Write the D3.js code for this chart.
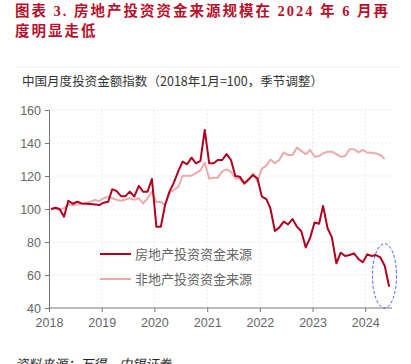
<!DOCTYPE html>
<html lang="zh">
<head>
<meta charset="UTF-8">
<title>房地产投资资金来源</title>
<script src="https://d3js.org/d3.v7.min.js"></script>
<style>
  body { margin: 0; background: #fff; }
  svg text { font-family: "Liberation Sans", "Noto Sans CJK SC", sans-serif; }
</style>
</head>
<body>
<div id="chart"></div>
<script>
// monthly index, 2018-01 .. 2024-06 (2018-01 = 100, seasonally adjusted)
const realEstate = [
  100, 100.8, 100, 95.3, 105, 103.2, 104.4, 103.4, 103.2, 103, 102.8, 102.4,
  103.8, 104.4, 112, 110.8, 107.8, 107.8, 110.5, 107.5, 114, 110.5, 110.5, 118.2,
  89.3, 89.3, 102.4, 110.5, 116, 123, 128.7, 127.1, 131.1, 127.7, 129.1, 147.9,
  127.7, 127.7, 129.7, 129.7, 133.3, 129.7, 120, 119.6, 115.5, 118, 120.6, 118.5,
  107.5, 106, 100.4, 86.7, 88.7, 92.3, 90.7, 93.9, 89.3, 86.5, 76.7, 82.5,
  91.8, 91.1, 101.9, 88.3, 82.8, 67.1, 73.5, 71.5, 72.1, 73.1, 69.7, 67.7,
  72.5, 71.5, 72.1, 70.7, 65.6, 52.9
];
// 2018-01 .. 2024-05
const nonRealEstate = [
  100, 100.2, 99.4, 100.5, 102.8, 102.3, 102.8, 103, 103.6, 104.5, 105.5, 104.8,
  106.5, 107.5, 106.5, 105.5, 105, 105.8, 106.5, 105.5, 106.5, 103.4, 106.5, 110.5,
  104.2, 104.4, 102.2, 110, 111.5, 113.5, 120, 120.2, 120.2, 121.8, 123.4, 128,
  118.4, 119, 119, 122.8, 124, 122.5, 118.6, 118.4, 115.3, 117.3, 121.6, 116.8,
  124.5, 126.3, 130, 127.7, 129.7, 134.3, 132.7, 132.7, 137.2, 135.2, 133.2, 135.8,
  131.7, 132.1, 133.7, 134.7, 134.7, 133.2, 131.7, 132.1, 136.2, 136.2, 134.3, 135.8,
  134.1, 134.1, 133.7, 132.7, 130.3
];
const seriesNames = ["房地产投资资金来源", "非地产投资资金来源"];
const yearTicks = [2018, 2019, 2020, 2021, 2022, 2023, 2024];
const yTicks = [40, 60, 80, 100, 120, 140, 160];

const W = 411, H = 364;
const svg = d3.select("#chart").append("svg")
  .attr("width", W)
  .attr("height", H);

const x = d3.scaleTime()
  .domain([new Date(2018, 0, 1), new Date(2024, 6, 1)])
  .range([49, 391.5]);
const y = d3.scaleLinear()
  .domain([40, 160])
  .range([308, 110]);

const monthDate = i => new Date(2018, i, 15);

// title
const red = "#b8102c";
svg.append("text").attr("x", 15).attr("y", 16)
  .attr("fill", red).attr("font-weight", "bold").attr("font-size", 14.5)
  .attr("textLength", 373).attr("lengthAdjust", "spacing")
  .style("font-family", "'Liberation Serif', 'Noto Sans CJK SC', serif")
  .text("图表 3. 房地产投资资金来源规模在 2024 年 6 月再");
svg.append("text").attr("x", 15).attr("y", 36)
  .attr("fill", red).attr("font-weight", "bold").attr("font-size", 14.5)
  .attr("letter-spacing", 2)
  .style("font-family", "'Liberation Serif', 'Noto Sans CJK SC', serif")
  .text("度明显走低");

svg.append("line").attr("x1", 15).attr("x2", 400).attr("y1", 67).attr("y2", 67)
  .attr("stroke", "#f0f0f0");

svg.append("text").attr("x", 22).attr("y", 86)
  .attr("fill", "#333").attr("font-size", 12.5)
  .attr("textLength", 301).attr("lengthAdjust", "spacing")
  .style("font-family", "'Noto Sans CJK SC', sans-serif")
  .text("中国月度投资金额指数（2018年1月=100，季节调整）");

// grid
const grid = svg.append("g").attr("stroke", "#d9d9d9").attr("stroke-dasharray", "1,3");
grid.selectAll(".gy").data(yTicks.slice(1)).join("line")
  .attr("x1", 49).attr("x2", 392)
  .attr("y1", d => y(d)).attr("y2", d => y(d));
grid.selectAll(".gx").data(yearTicks.slice(1)).join("line")
  .attr("x1", d => x(new Date(d, 0, 1))).attr("x2", d => x(new Date(d, 0, 1)))
  .attr("y1", 110).attr("y2", 308);

// axes
const yAxis = svg.append("g").attr("transform", "translate(49,0)")
  .call(d3.axisLeft(y).tickValues(yTicks).tickSize(4).tickPadding(4));
const xAxis = svg.append("g").attr("transform", "translate(0,308)")
  .call(d3.axisBottom(x).tickValues(yearTicks.map(d => new Date(d, 0, 1)))
    .tickFormat(d3.timeFormat("%Y")).tickSize(4).tickPadding(6));
xAxis.select(".domain").attr("d", "M49,0H392");
[yAxis, xAxis].forEach(a => {
  a.selectAll("path, line").attr("stroke", "#777");
  a.selectAll("text").attr("fill", "#666").attr("font-size", 12.5)
    .style("font-family", "'Liberation Sans', Arial, sans-serif");
});

// lines
const line = d3.line()
  .x((d, i) => x(monthDate(i)))
  .y(d => y(d));
svg.append("path").datum(nonRealEstate)
  .attr("fill", "none").attr("stroke", "#eeaaaa").attr("stroke-width", 2)
  .attr("stroke-linejoin", "round").attr("d", line);
svg.append("path").datum(realEstate)
  .attr("fill", "none").attr("stroke", "#b0001f").attr("stroke-width", 2)
  .attr("stroke-linejoin", "round").attr("d", line);

// legend
const legend = svg.append("g");
[["#b0001f", 254], ["#eeaaaa", 279]].forEach(([c, ly], k) => {
  legend.append("line").attr("x1", 100).attr("x2", 131).attr("y1", ly).attr("y2", ly)
    .attr("stroke", c).attr("stroke-width", 2);
  legend.append("text").attr("x", 135).attr("y", ly + 4.5)
    .attr("fill", "#666").attr("font-size", 13)
    .style("font-family", "'Noto Sans CJK SC', sans-serif")
    .text(seriesNames[k]);
});

// highlight ellipse around the last months
const ex0 = x(new Date(2024, 1, 20)), ex1 = x(new Date(2024, 7, 5));
svg.append("ellipse")
  .attr("cx", (ex0 + ex1) / 2).attr("cy", (y(79) + y(40)) / 2)
  .attr("rx", (ex1 - ex0) / 2).attr("ry", (y(40) - y(79)) / 2)
  .attr("fill", "none").attr("stroke", "#4455ff").attr("stroke-width", 1)
  .attr("stroke-dasharray", "3,2");

// source (cut by the bottom edge, as in the original)
svg.append("text").attr("x", 15).attr("y", 369)
  .attr("fill", "#222").attr("font-size", 13).attr("font-style", "italic")
  .style("font-family", "'Noto Sans CJK SC', sans-serif")
  .text("资料来源：万得，中银证券");
</script>
</body>
</html>
